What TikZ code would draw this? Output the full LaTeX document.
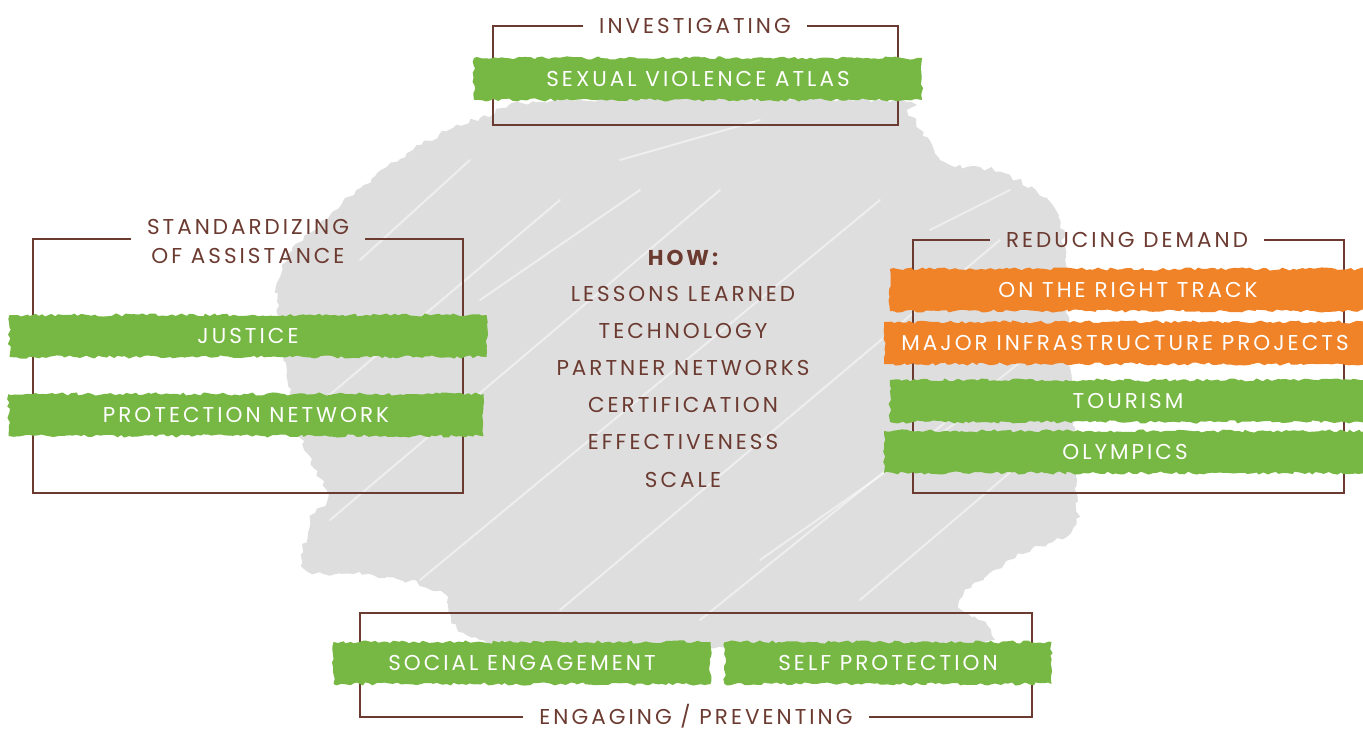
\documentclass[tikz,border=0pt]{standalone}
\usepackage{fontspec}
\setmainfont{Poppins}[LetterSpace=14]
\usetikzlibrary{decorations.pathmorphing}
\definecolor{brn}{HTML}{6B3A30}
\definecolor{grn}{HTML}{76B843}
\definecolor{org}{HTML}{F08228}
\definecolor{scr}{HTML}{DEDEDE}
\begin{document}
\begin{tikzpicture}[x=1pt,y=-1pt,
  font=\fontsize{21.5}{29}\selectfont,
  band/.style={fill=#1, text=white, decorate,
    decoration={random steps,segment length=4pt,amplitude=1.6pt},
    inner sep=0pt, minimum height=42pt, text height=15pt, text depth=0pt},
  ttl/.style={text=brn, inner xsep=16pt, inner ysep=0pt, text height=15pt, text depth=0pt},
  howtxt/.style={text=brn, inner sep=0pt, text height=15pt, text depth=0pt},
  frame/.style={draw=brn, line width=1.6pt},
  streak/.style={draw=white, line width=2pt, opacity=0.5, line cap=round}]
\useasboundingbox (0,0) rectangle (1363,730);
\pgfmathsetseed{7}
% gray scribble background
\fill[scr, decorate, decoration={random steps,segment length=5pt,amplitude=2.5pt}]
  plot[smooth cycle, tension=0.55] coordinates {(277,283) (330,215) (413,150) (480,118) (560,100)
  (880,100) (910,115) (945,162) (1000,172) (1052,205) (1065,260) (1075,470) (1073,528)
  (1010,560) (960,600) (990,630) (960,645) (700,648) (480,640) (440,592) (373,575)
  (307,570) (310,520) (327,495) (300,433)};
\draw[streak] (300,420) -- (560,200);
\draw[streak] (330,520) -- (720,190);
\draw[streak] (420,580) -- (880,200);
\draw[streak] (560,610) -- (1000,240);
\draw[streak] (700,620) -- (1060,330);
\draw[streak] (360,260) -- (470,160);
\draw[streak] (860,600) -- (1060,430);
\draw[streak] (620,160) -- (760,120);
\draw[streak] (480,300) -- (640,190);
\draw[streak] (760,560) -- (960,420);
\draw[streak] (930,230) -- (1010,190);

% INVESTIGATING
\node[ttl] (t1) at (695,26) {INVESTIGATING};
\draw[frame] (t1.west) -- (493,26) -- (493,125) -- (898,125) -- (898,26) -- (t1.east);
\node[band=grn, minimum width=448pt] (b1) at (698,79) {SEXUAL VIOLENCE ATLAS};

% STANDARDIZING OF ASSISTANCE
\node[ttl, align=center, text height=, text depth=] (t2) at (248,241) {STANDARDIZING\\OF ASSISTANCE};
\draw[frame] (t2.west |- 0,239) -- (33,239) -- (33,493) -- (463,493) -- (463,239) -- (t2.east |- 0,239);
\node[band=grn, minimum width=477pt] (b2) at (248,336) {JUSTICE};
\node[band=grn, minimum width=475pt] (b3) at (246,415) {PROTECTION NETWORK};

% REDUCING DEMAND
\node[ttl] (t3) at (1127,240) {REDUCING DEMAND};
\draw[frame] (t3.west) -- (913,240) -- (913,493) -- (1344,493) -- (1344,240) -- (t3.east);
\node[band=org, minimum width=476pt] (b4) at (1128,290) {ON THE RIGHT TRACK};
\node[band=org, minimum width=482pt] (b5) at (1125,343) {MAJOR INFRASTRUCTURE PROJECTS};
\node[band=grn, minimum width=476pt] (b6) at (1128,401) {TOURISM};
\node[band=grn, minimum width=482pt] (b7) at (1125,452) {OLYMPICS};

% ENGAGING / PREVENTING
\node[ttl] (t4) at (696,717) {ENGAGING / PREVENTING};
\draw[frame] (t4.west) -- (360,717) -- (360,613) -- (1032,613) -- (1032,717) -- (t4.east);
\node[band=grn, minimum width=377pt] (b8) at (522,663) {SOCIAL ENGAGEMENT};
\node[band=grn, minimum width=327pt] (b9) at (888,663) {SELF PROTECTION};

% HOW list
\node[howtxt, font=\fontsize{21.5}{29}\selectfont\bfseries] (h0) at (683,258) {HOW:};
\node[howtxt] (h1) at (683,294) {LESSONS LEARNED};
\node[howtxt] (h2) at (683,331) {TECHNOLOGY};
\node[howtxt] (h3) at (683,368) {PARTNER NETWORKS};
\node[howtxt] (h4) at (683,405) {CERTIFICATION};
\node[howtxt] (h5) at (683,442) {EFFECTIVENESS};
\node[howtxt] (h6) at (683,480) {SCALE};
\end{tikzpicture}
\end{document}
